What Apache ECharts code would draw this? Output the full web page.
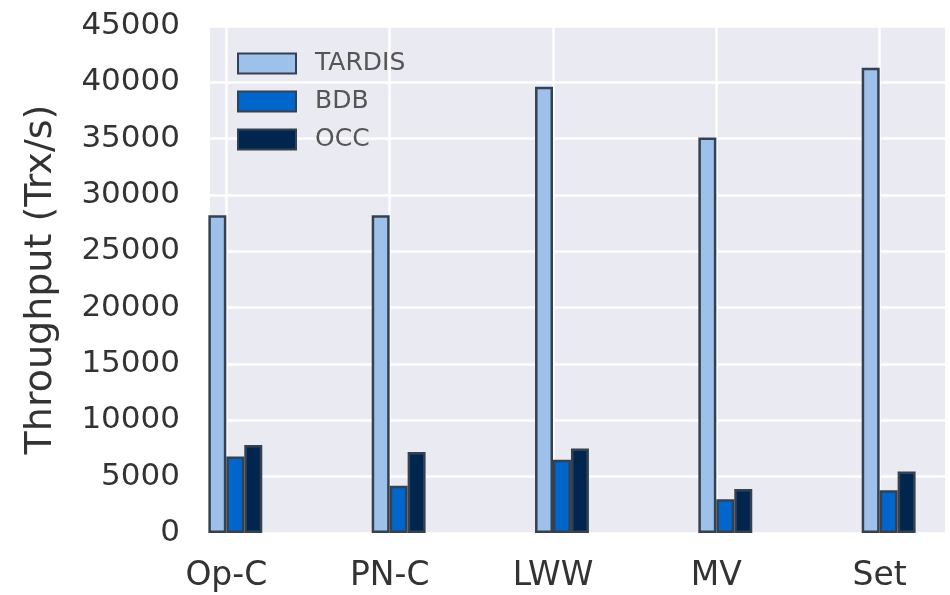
<!DOCTYPE html>
<html>
<head>
<meta charset="utf-8">
<script src="https://cdn.jsdelivr.net/npm/echarts@6/dist/echarts.min.js"></script>
<style>
  html, body { margin: 0; padding: 0; background: #ffffff; }
  #chart { width: 950px; height: 595px; }
</style>
</head>
<body>
<div id="chart"></div>
<script>
// Workloads on the x axis
const categories = ['Op-C', 'PN-C', 'LWW', 'MV', 'Set'];

// Throughput per system (transactions per second)
const tardis = [28200, 28200, 39600, 35100, 41300];
const bdb    = [6800, 4200, 6500, 3000, 3800];
const occ    = [7800, 7200, 7500, 3900, 5450];

const seriesNames = ['TARDIS', 'BDB', 'OCC'];
const yTickStep = 5000;
const yMax = 45000;

// Layout of the x scale (units = category index)
const X_MIN = -0.1, X_MAX = 4.4;
const BAR_W = 0.11;                 // bar width in axis units
const GRID = { left: 210, right: 5, top: 26, bottom: 62 };
const plotWidth = 950 - GRID.left - GRID.right;
const barPx = BAR_W * plotWidth / (X_MAX - X_MIN);

const colors = ['#9dc1ea', '#0066cc', '#00264f'];
const edge = '#36414f';
const offsets = [-0.5, 0.5, 1.5];   // bar centre relative to the tick, in bar widths
const values = [tardis, bdb, occ];

const font = 'DejaVu Sans';

const series = seriesNames.map((name, k) => ({
  name: name,
  type: 'bar',
  barWidth: barPx,
  barGap: '-100%',
  data: values[k].map((v, i) => [i + offsets[k] * BAR_W, v]),
  itemStyle: { color: colors[k], borderColor: edge, borderWidth: 2.5 }
}));

const chart = echarts.init(document.getElementById('chart'), null, { renderer: 'canvas' });
chart.setOption({
  animation: false,
  backgroundColor: '#ffffff',
  grid: {
    left: GRID.left, right: GRID.right, top: GRID.top, bottom: GRID.bottom,
    show: true, backgroundColor: '#eaeaf2', borderWidth: 0
  },
  legend: {
    data: seriesNames,
    orient: 'vertical',
    left: 232, top: 46,
    itemWidth: 58, itemHeight: 20, itemGap: 13,
    icon: 'rect',
    textStyle: {
      fontFamily: font, fontSize: 25, color: '#555555',
      lineHeight: 20, padding: [0, 0, 0, 14]
    }
  },
  xAxis: {
    type: 'value',
    min: X_MIN, max: X_MAX,
    axisLine: { show: false },
    axisTick: { show: false, customValues: categories.map((c, i) => i) },
    axisLabel: {
      customValues: categories.map((c, i) => i),
      formatter: v => categories[Math.round(v)] || '',
      fontFamily: font, fontSize: 33, color: '#333333', margin: 27
    },
    splitLine: { show: true, lineStyle: { color: '#ffffff', width: 2.5 } }
  },
  yAxis: {
    type: 'value',
    min: 0, max: yMax, interval: yTickStep,
    name: 'Throughput (Trx/s)',
    nameLocation: 'middle',
    nameGap: 150,
    nameTextStyle: { fontFamily: font, fontSize: 38, color: '#333333' },
    axisLine: { show: false },
    axisTick: { show: false },
    axisLabel: {
      formatter: v => String(v),
      fontFamily: font, fontSize: 31, color: '#333333', margin: 30
    },
    splitLine: { show: true, lineStyle: { color: '#ffffff', width: 2.5 } }
  },
  series: series
});
</script>
</body>
</html>
